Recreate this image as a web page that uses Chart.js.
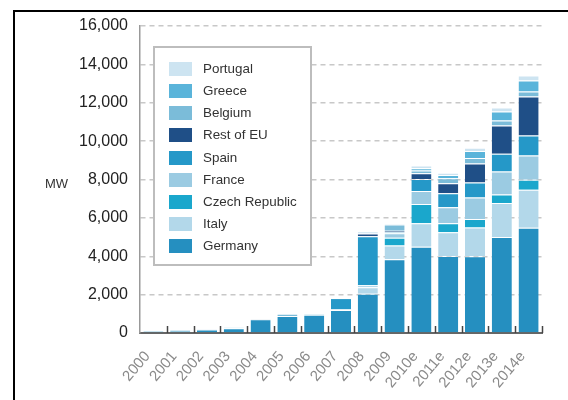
<!DOCTYPE html>
<html>
<head>
<meta charset="utf-8">
<script src="https://cdn.jsdelivr.net/npm/chart.js@4/dist/chart.umd.min.js"></script>
<style>
  html, body { margin:0; padding:0; background:#fff; overflow:hidden; }
  #wrap { position:relative; width:568px; height:400px; font-family:"Liberation Sans", Arial, sans-serif; }
  #c { position:absolute; left:0; top:0; }
  #frame { position:absolute; left:13px; top:10px; width:700px; height:600px; border-left:2px solid #000; border-top:2px solid #000; box-sizing:border-box; pointer-events:none; }
  #mw { position:absolute; left:45px; top:176px; font-size:13px; color:#333; }
  #legend { position:absolute; left:153px; top:46px; width:159px; height:220px; box-sizing:border-box; border:2px solid #bdbdbd; background:#fff; }
  .li { position:absolute; left:14px; height:14px; }
  .sw { position:absolute; left:0; top:0; width:23px; height:14px; }
  .lt { position:absolute; left:34px; top:-1px; font-size:13.4px; color:#333; white-space:nowrap; line-height:16px; }
</style>
</head>
<body>
<div id="wrap">
  <canvas id="c" width="568" height="400"></canvas>
  <div id="frame"></div>
  <div id="mw">MW</div>
  <div id="legend"></div>
</div>
<script>
const years = ['2000','2001','2002','2003','2004','2005','2006','2007','2008','2009','2010e','2011e','2012e','2013e','2014e'];
const yTicks = [0,2000,4000,6000,8000,10000,12000,14000,16000];

// stacked bottom -> top
const germany  = [100, 110, 180, 250, 720, 885, 950, 1200, 2050, 3850, 4500, 4010, 4000, 5000, 5490];
const italy    = [0, 50, 30, 50, 0, 0, 0, 50, 340, 715, 1215, 1235, 1495, 1770, 1980];
const czech    = [0, 0, 0, 0, 0, 0, 0, 0, 0, 400, 1010, 470, 450, 450, 520];
const france   = [0, 0, 0, 0, 0, 0, 0, 0, 100, 230, 680, 835, 1115, 1200, 1265];
const spain    = [0, 0, 0, 0, 0, 0, 30, 570, 2550, 50, 625, 730, 780, 920, 1040];
const restEU   = [0, 0, 0, 0, 30, 0, 0, 0, 140, 85, 295, 520, 990, 1475, 2030];
const belgium  = [0, 0, 0, 0, 0, 120, 0, 0, 0, 330, 140, 260, 290, 260, 260];
const greece   = [0, 0, 0, 0, 0, 0, 0, 0, 0, 0, 120, 170, 365, 470, 575];
const portugal = [0, 0, 0, 0, 0, 0, 0, 0, 120, 50, 140, 120, 175, 210, 260];

const seriesNames = ['Germany','Italy','Czech Republic','France','Spain','Rest of EU','Belgium','Greece','Portugal'];
const seriesData  = [germany, italy, czech, france, spain, restEU, belgium, greece, portugal];
const seriesColors = ['#258fc0','#b3d8ea','#1aa7cc','#9bcbe2','#2598c8','#1f4f87','#7bbcd9','#5ab4da','#cde4f1'];

const datasets = seriesNames.map((n, i) => ({
  label: n,
  data: seriesData[i],
  backgroundColor: seriesColors[i],
  borderColor: 'rgba(255,255,255,0.35)',
  borderWidth: {top: 1, bottom: 0, left: 0, right: 0},
  borderSkipped: false,
  barPercentage: 0.75,
  categoryPercentage: 1.0
}));

// legend (top = last series)
const leg = document.getElementById('legend');
for (let k = 0; k < seriesNames.length; k++) {
  const idx = seriesNames.length - 1 - k;
  const d = document.createElement('div');
  d.className = 'li';
  d.style.top = (14 + k * 22.15) + 'px';
  d.innerHTML = '<div class="sw" style="background:' + seriesColors[idx] + '"></div><div class="lt">' + seriesNames[idx] + '</div>';
  leg.appendChild(d);
}

const boundaryTicks = {
  id: 'boundaryTicks',
  afterDraw(chart) {
    const xs = chart.scales.x, ctx = chart.ctx;
    const y = chart.chartArea.bottom;
    const n = years.length;
    const step = xs.getPixelForValue(1) - xs.getPixelForValue(0);
    ctx.save();
    ctx.strokeStyle = '#444';
    ctx.lineWidth = 1.5;
    for (let i = 1; i <= n; i++) {
      const x = Math.round(xs.getPixelForValue(i - 1) + step / 2) + 0.5;
      ctx.beginPath();
      ctx.moveTo(x, y);
      ctx.lineTo(x, y - 7);
      ctx.stroke();
    }
    ctx.restore();
  }
};

Chart.defaults.font.family = '"Liberation Sans", Arial, sans-serif';

new Chart(document.getElementById('c').getContext('2d'), {
  type: 'bar',
  data: { labels: years, datasets: datasets },
  options: {
    responsive: false,
    animation: false,
    layout: { padding: { left: 0, right: 26, top: 26, bottom: 0 } },
    plugins: { legend: { display: false }, tooltip: { enabled: false } },
    scales: {
      x: {
        stacked: true,
        grid: { display: false, drawTicks: false },
        border: { display: true, color: '#666', width: 2 },
        ticks: { color: '#8a8a8a', font: { size: 15 }, minRotation: 50, maxRotation: 50, padding: 15, labelOffset: -6, autoSkip: false },
        afterFit(s) { s.height = 67; }
      },
      y: {
        stacked: true,
        min: 0,
        max: 16000,
        afterBuildTicks(s) { s.ticks = yTicks.map(v => ({ value: v })); },
        ticks: { color: '#222', font: { size: 16 }, padding: 12, callback: v => Number(v).toLocaleString('en-US') },
        grid: { color: '#c8c8c8', lineWidth: 1.5, drawTicks: false },
        border: { display: true, color: '#999', width: 1.5, dash: [5, 4] },
        afterFit(s) { s.width = 140; }
      }
    }
  },
  plugins: [boundaryTicks]
});
</script>
</body>
</html>
